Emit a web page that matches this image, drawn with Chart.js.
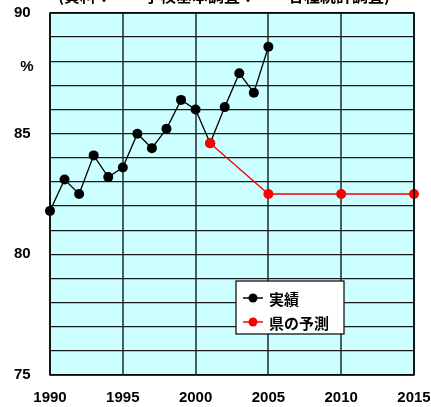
<!DOCTYPE html>
<html>
<head>
<meta charset="utf-8">
<script src="https://cdn.jsdelivr.net/npm/chart.js@4/dist/chart.umd.min.js"></script>
<style>
  html, body { margin: 0; padding: 0; background: #ffffff; }
  #wrap { width: 431px; height: 407px; position: relative; }
</style>
</head>
<body>
<div id="wrap"><canvas id="c" width="431" height="407"></canvas></div>
<script>
// Actual rate (%) by year
const actualYears = [1990, 1991, 1992, 1993, 1994, 1995, 1996, 1997, 1998, 1999, 2000, 2001, 2002, 2003, 2004, 2005];
const actualValues = [81.8, 83.1, 82.5, 84.1, 83.2, 83.6, 85.0, 84.4, 85.2, 86.4, 86.0, 84.6, 86.1, 87.5, 86.7, 88.6];

// Prefecture forecast (%)
const forecastYears = [2001, 2005, 2010, 2015];
const forecastValues = [84.6, 82.5, 82.5, 82.5];

const seriesLabels = ['実績', '県の予測'];
const titleText = '(資料：　　学校基本調査：　　各種統計調査)';
const unitText = '%';

const numFont = '"Liberation Sans", Arial, sans-serif';
const cjkFont = '"Noto Sans CJK JP", "Liberation Sans", sans-serif';

const toPoints = (xs, ys) => xs.map((x, i) => ({ x: x, y: ys[i] }));

// Paints the cyan plot background
const plotBackground = {
  id: 'plotBackground',
  beforeDraw(chart) {
    const { ctx, chartArea: a } = chart;
    ctx.save();
    ctx.fillStyle = '#ccffff';
    ctx.fillRect(a.left, a.top, a.right - a.left, a.bottom - a.top);
    ctx.restore();
  }
};

// Border, title, unit label and the in-plot legend box
const decorations = {
  id: 'decorations',
  afterDatasetsDraw(chart) {
    const { ctx, chartArea: a } = chart;
    ctx.save();
    ctx.strokeStyle = '#000';
    ctx.lineWidth = 1.5;
    ctx.strokeRect(a.left, a.top, a.right - a.left, a.bottom - a.top);
    ctx.restore();
  },
  afterDraw(chart) {
    const { ctx } = chart;
    const ys = chart.scales.y;
    ctx.save();
    // title (runs off the top edge)
    ctx.fillStyle = '#000';
    ctx.font = 'bold 16px ' + cjkFont;
    ctx.textAlign = 'center';
    ctx.textBaseline = 'bottom';
    ctx.fillText(titleText, 224, 4);

    // unit
    ctx.font = 'bold 15px ' + numFont;
    ctx.textBaseline = 'middle';
    ctx.fillText(unitText, 27, ys.getPixelForValue(87.75));

    // legend box
    const bx = 236, by = 281, bw = 108, bh = 53;
    ctx.fillStyle = '#fff';
    ctx.fillRect(bx, by, bw, bh);
    ctx.strokeStyle = '#000';
    ctx.lineWidth = 1.2;
    ctx.strokeRect(bx, by, bw, bh);
    chart.data.datasets.forEach((ds, i) => {
      const cy = by + 17 + i * 24;
      ctx.strokeStyle = ds.borderColor;
      ctx.lineWidth = 1.5;
      ctx.beginPath();
      ctx.moveTo(bx + 7, cy);
      ctx.lineTo(bx + 27, cy);
      ctx.stroke();
      ctx.fillStyle = ds.pointBackgroundColor;
      ctx.beginPath();
      ctx.arc(bx + 17, cy, 4.5, 0, Math.PI * 2);
      ctx.fill();
      ctx.fillStyle = '#000';
      ctx.font = 'bold 15px ' + cjkFont;
      ctx.textAlign = 'left';
      ctx.textBaseline = 'middle';
      ctx.fillText(ds.label, bx + 33, cy + 1);
    });
    ctx.restore();
  }
};

new Chart(document.getElementById('c'), {
  type: 'line',
  data: {
    datasets: [
      {
        label: seriesLabels[0],
        data: toPoints(actualYears, actualValues),
        borderColor: '#000',
        backgroundColor: '#000',
        pointBackgroundColor: '#000',
        pointBorderColor: '#000',
        borderWidth: 1.3,
        pointRadius: 5,
        pointBorderWidth: 0,
        tension: 0,
        clip: false,
        order: 1
      },
      {
        label: seriesLabels[1],
        data: toPoints(forecastYears, forecastValues),
        borderColor: '#ff0000',
        backgroundColor: '#ff0000',
        pointBackgroundColor: '#ff0000',
        pointBorderColor: '#ff0000',
        borderWidth: 1.3,
        pointRadius: 5,
        pointBorderWidth: 0,
        tension: 0,
        clip: false,
        order: 0
      }
    ]
  },
  options: {
    responsive: false,
    animation: false,
    events: [],
    layout: { padding: { left: 14, right: 17, top: 13, bottom: 0 } },
    plugins: {
      legend: { display: false },
      tooltip: { enabled: false },
      title: { display: false }
    },
    scales: {
      x: {
        type: 'linear',
        min: 1990,
        max: 2015,
        border: { display: false },
        grid: { color: '#4a6060', lineWidth: 2, drawTicks: true, tickLength: 14, tickColor: 'rgba(0,0,0,0)' },
        ticks: {
          stepSize: 5,
          padding: 0,
          color: '#000',
          font: { family: numFont, size: 15, weight: 'bold' },
          maxRotation: 0,
          callback: v => String(v)
        },
        afterFit(scale) { scale.height = 32; }
      },
      y: {
        min: 75,
        max: 90,
        border: { display: false },
        grid: { color: '#1a1a1a', lineWidth: 1.3, drawTicks: false },
        ticks: {
          stepSize: 1,
          padding: 0,
          crossAlign: 'far',
          color: '#000',
          font: { family: numFont, size: 15, weight: 'bold' },
          autoSkip: false,
          callback: v => (v % 5 === 0 ? String(v) : '')
        },
        afterFit(scale) { scale.width = 36; }
      }
    }
  },
  plugins: [plotBackground, decorations]
});
</script>
</body>
</html>
